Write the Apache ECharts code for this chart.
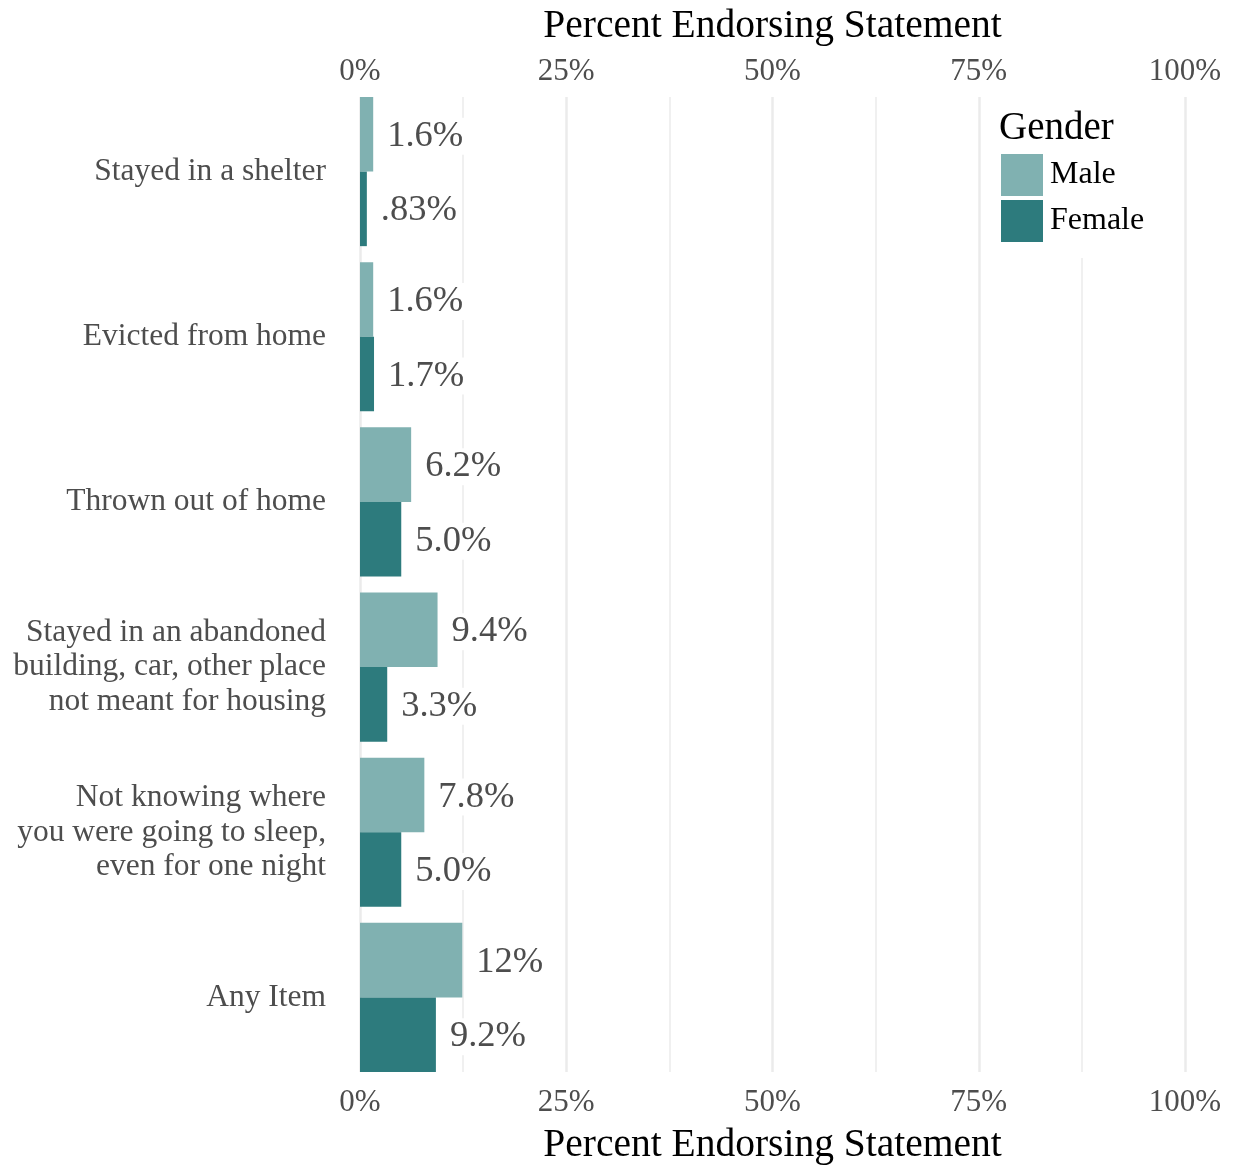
<!DOCTYPE html>
<html>
<head>
<meta charset="utf-8">
<script src="https://cdn.jsdelivr.net/npm/echarts@6/dist/echarts.min.js"></script>
<style>
  html, body { margin: 0; padding: 0; background: #fff; }
  #chart { width: 1236px; height: 1167px; }
</style>
</head>
<body>
<div id="chart"></div>
<script>
const categories = [
  'Stayed in a shelter',
  'Evicted from home',
  'Thrown out of home',
  'Stayed in an abandoned\nbuilding, car, other place\nnot meant for housing',
  'Not knowing where\nyou were going to sleep,\neven for one night',
  'Any Item'
];
const maleValues = [1.6, 1.6, 6.2, 9.4, 7.8, 12.4];
const femaleValues = [0.83, 1.7, 5.0, 3.3, 5.0, 9.2];
const xTicks = [0, 25, 50, 75, 100];

const FONT = '"Liberation Serif", "Times New Roman", serif';
const MALE_COLOR = '#80b1b1';
const FEMALE_COLOR = '#2d7b7d';

// 12% / 9.2% / .83% style labels
function fmtPct(v) {
  if (v >= 10) return Math.round(v) + '%';
  if (v < 1) return v.toFixed(2).replace(/^0/, '') + '%';
  return v.toFixed(1) + '%';
}

const valueLabel = {
  show: true,
  position: 'right',
  distance: 12,
  offset: [0, 2],
  fontFamily: FONT,
  fontSize: 36.5,
  color: '#4d4d4d',
  backgroundColor: '#fff',
  padding: [0, 2],
  formatter: p => fmtPct(p.value)
};

let chart = echarts.init(document.getElementById('chart'));

const xAxisBase = {
  type: 'value',
  gridIndex: 1,
  min: 0,
  max: 100,
  interval: 25,
  axisLine: { show: false },
  axisTick: { show: false },
  nameLocation: 'middle',
  nameTextStyle: { fontFamily: FONT, fontSize: 39.5, color: '#000' },
  axisLabel: {
    fontFamily: FONT,
    fontSize: 31,
    color: '#4d4d4d',
    formatter: v => (xTicks.indexOf(v) >= 0 ? v + '%' : '')
  }
};

let option = {
  animation: false,
  textStyle: { fontFamily: FONT },
  grid: [
    // bars: bands reach a half gap past the panel edges
    { left: 360, right: 51, top: 89, bottom: 87, outerBoundsMode: 'none' },
    // panel: gridlines and both percent axes
    { left: 360, right: 51, top: 97, bottom: 95, outerBoundsMode: 'none' }
  ],
  title: {
    text: 'Gender',
    left: 999,
    top: 109,
    padding: 0,
    z: 10,
    textStyle: { fontFamily: FONT, fontSize: 39, fontWeight: 'normal', color: '#000' }
  },
  legend: {
    data: ['Male', 'Female'],
    orient: 'vertical',
    left: 986,
    top: 94,
    padding: [60, 24, 16, 15],
    itemWidth: 42,
    itemHeight: 42,
    itemGap: 4,
    backgroundColor: '#fff',
    icon: 'rect',
    textStyle: { fontFamily: FONT, fontSize: 32, color: '#000', padding: [0, 0, 0, 2] }
  },
  xAxis: [
    {
      type: 'value',
      gridIndex: 0,
      min: 0,
      max: 100,
      show: false
    },
    Object.assign({}, xAxisBase, {
      position: 'bottom',
      name: 'Percent Endorsing Statement',
      nameGap: 54,
      axisLabel: Object.assign({}, xAxisBase.axisLabel, { margin: 15 }),
      splitLine: { show: true, lineStyle: { color: '#ebebeb', width: 2.5 } },
      minorTick: { show: false, splitNumber: 2 },
      minorSplitLine: { show: true, lineStyle: { color: '#ebebeb', width: 1.5 } }
    }),
    Object.assign({}, xAxisBase, {
      position: 'top',
      name: 'Percent Endorsing Statement',
      nameGap: 50,
      axisLabel: Object.assign({}, xAxisBase.axisLabel, { margin: 10 }),
      splitLine: { show: false }
    })
  ],
  yAxis: [
    {
      type: 'category',
      gridIndex: 0,
      data: categories,
      inverse: true,
      axisLine: { show: false },
      axisTick: { show: false },
      splitLine: { show: false },
      axisLabel: {
        fontFamily: FONT,
        fontSize: 31.5,
        lineHeight: 34.5,
        color: '#4d4d4d',
        margin: 34,
        align: 'right',
        padding: [4, 0, 0, 0]
      }
    },
    {
      type: 'value',
      gridIndex: 1,
      min: 0,
      max: 1,
      show: false
    }
  ],
  series: [
    {
      name: 'Male',
      type: 'bar',
      xAxisIndex: 0,
      yAxisIndex: 0,
      data: maleValues,
      barGap: 0,
      barCategoryGap: '9.7%',
      itemStyle: { color: MALE_COLOR },
      label: valueLabel,
      z: 3
    },
    {
      name: 'Female',
      type: 'bar',
      xAxisIndex: 0,
      yAxisIndex: 0,
      data: femaleValues,
      barGap: 0,
      barCategoryGap: '9.7%',
      itemStyle: { color: FEMALE_COLOR },
      label: valueLabel,
      z: 3
    }
  ]
};

option && chart.setOption(option);
</script>
</body>
</html>
